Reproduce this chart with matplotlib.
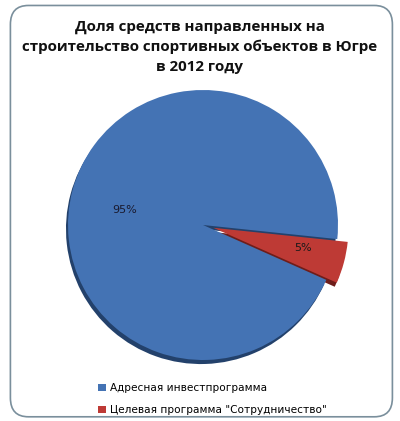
import matplotlib
matplotlib.use("Agg")
import matplotlib.pyplot as plt
from matplotlib.patches import FancyBboxPatch

title = "Доля средств направленных на\nстроительство спортивных объектов в Югре\nв 2012 году"
categories = ["Адресная инвестпрограмма", "Целевая программа \"Сотрудничество\""]
values = [95, 5]
pct_labels = ["95%", "5%"]
colors = ["#4473b4", "#be3a35"]

fig = plt.figure(figsize=(4.0, 4.21), dpi=100)
fig.patch.set_facecolor("white")

# rounded frame
frame = FancyBboxPatch((0.026, 0.01), 0.955, 0.977, boxstyle="round,pad=0,rounding_size=0.045",
                       transform=fig.transFigure, facecolor="none", edgecolor="#7a8f9c",
                       linewidth=1.2, zorder=-5)
fig.patches.append(frame)

fig.text(0.5, 1 - 47 / 421, title, ha="center", va="center", fontsize=10.9, fontweight="bold",
         family="Open Sans", linespacing=1.5, color="#111111")

R = 135.0
W, H = 400, 421
half = 1.3 * R
cx, cy = 203, 421 - 225
ax = fig.add_axes([(cx - half) / W, (cy - half) / H, 2 * half / W, 2 * half / H])

# subtle shadow
ax.pie(values, startangle=-6, explode=[0, 0.08], colors=["#23416b", "#6e1d1a"],
       radius=1.0, center=(-0.015, -0.03), frame=True)
wedges, texts = ax.pie(values, startangle=-6, explode=[0, 0.08], colors=colors,
                       radius=1.0, frame=True)
ax.set_xlim(-1.3, 1.3)
ax.set_ylim(-1.3, 1.3)
ax.axis("off")

ax.text(-0.58, 0.11, pct_labels[0], ha="center", va="center", fontsize=8, color="#1a1a2e", family="DejaVu Sans")
ax.text(0.74, -0.17, pct_labels[1], ha="center", va="center", fontsize=8, color="#1a1a1a", family="DejaVu Sans")

leg = fig.legend(wedges, categories, loc="upper left", bbox_to_anchor=(0.222, 0.113),
                 frameon=False, handlelength=0.7, handleheight=0.7,
                 handletextpad=0.4, labelspacing=1.15, prop={"family": "DejaVu Sans", "size": 7.6})

fig.savefig("out.png", dpi=100, facecolor="white")
